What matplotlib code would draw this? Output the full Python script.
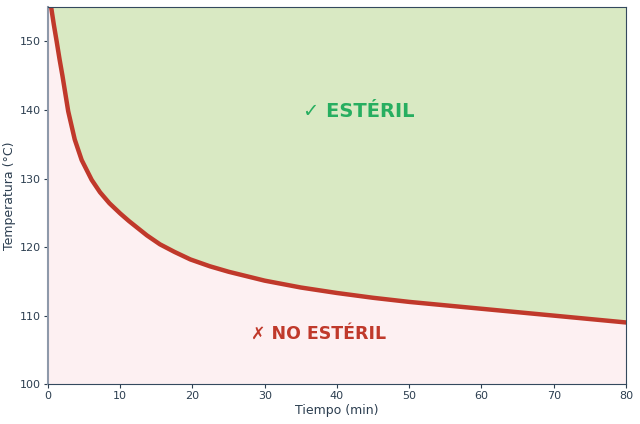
import numpy as np
import matplotlib.pyplot as plt

# tiempo (min) y temperatura minima de esterilizacion (°C)
tiempo = [0.42, 0.8, 1.2, 1.6, 2.0, 2.4, 2.8, 3.7, 4.66, 6.05, 7.2, 8.5, 10, 11.2, 13.7,
          15.5, 17.5, 19.7, 22.4, 25, 30, 35, 40, 45, 50, 55, 60, 65, 70, 75, 80]
temperatura = [155.1, 152.5, 150, 147.4, 145, 142.4, 139.8, 135.7, 132.7, 129.8, 128.0,
               126.4, 124.9, 123.8, 121.7, 120.4, 119.3, 118.2, 117.2, 116.4, 115.1,
               114.1, 113.3, 112.6, 112, 111.5, 111, 110.5, 110, 109.5, 109]

x_lim = [0, 80]
y_lim = [100, 155]

fig, ax = plt.subplots(figsize=(6.4, 4.24), dpi=100)

t = np.array([0.0] + tiempo)
T = np.array([158.0] + temperatura)

ax.fill_between(t, T, y_lim[1], color='#d9e9c3', linewidth=0)
ax.fill_between(t, y_lim[0], T, color='#fdf0f2', linewidth=0)
ax.plot(t, T, color='#c0392b', linewidth=3.2, solid_joinstyle='round')

ax.text(43, 139.8, '✓ ESTÉRIL', color='#27ae60', fontsize=14, fontweight='bold',
        ha='center', va='center')
ax.text(37.4, 107.3, '✗ NO ESTÉRIL', color='#c0392b', fontsize=12.5, fontweight='bold',
        ha='center', va='center')

ax.set_xlim(x_lim)
ax.set_ylim(y_lim)
ax.set_xticks(range(0, 81, 10))
ax.set_yticks(range(100, 151, 10))
ax.set_xlabel('Tiempo (min)', color='#2c3e50', fontsize=9, labelpad=2)
ax.set_ylabel('Temperatura (°C)', color='#2c3e50', fontsize=9, labelpad=3)
ax.tick_params(colors='#2c3e50', labelsize=8, length=3, pad=2)
for side in ['top', 'right', 'bottom']:
    ax.spines[side].set_color('#34495e')
    ax.spines[side].set_linewidth(0.8)
ax.spines['left'].set_color('#8e99aa')
ax.spines['left'].set_linewidth(1.5)

fig.subplots_adjust(left=0.075, right=0.978, top=0.983, bottom=0.094)
fig.savefig('out.png', dpi=100)
